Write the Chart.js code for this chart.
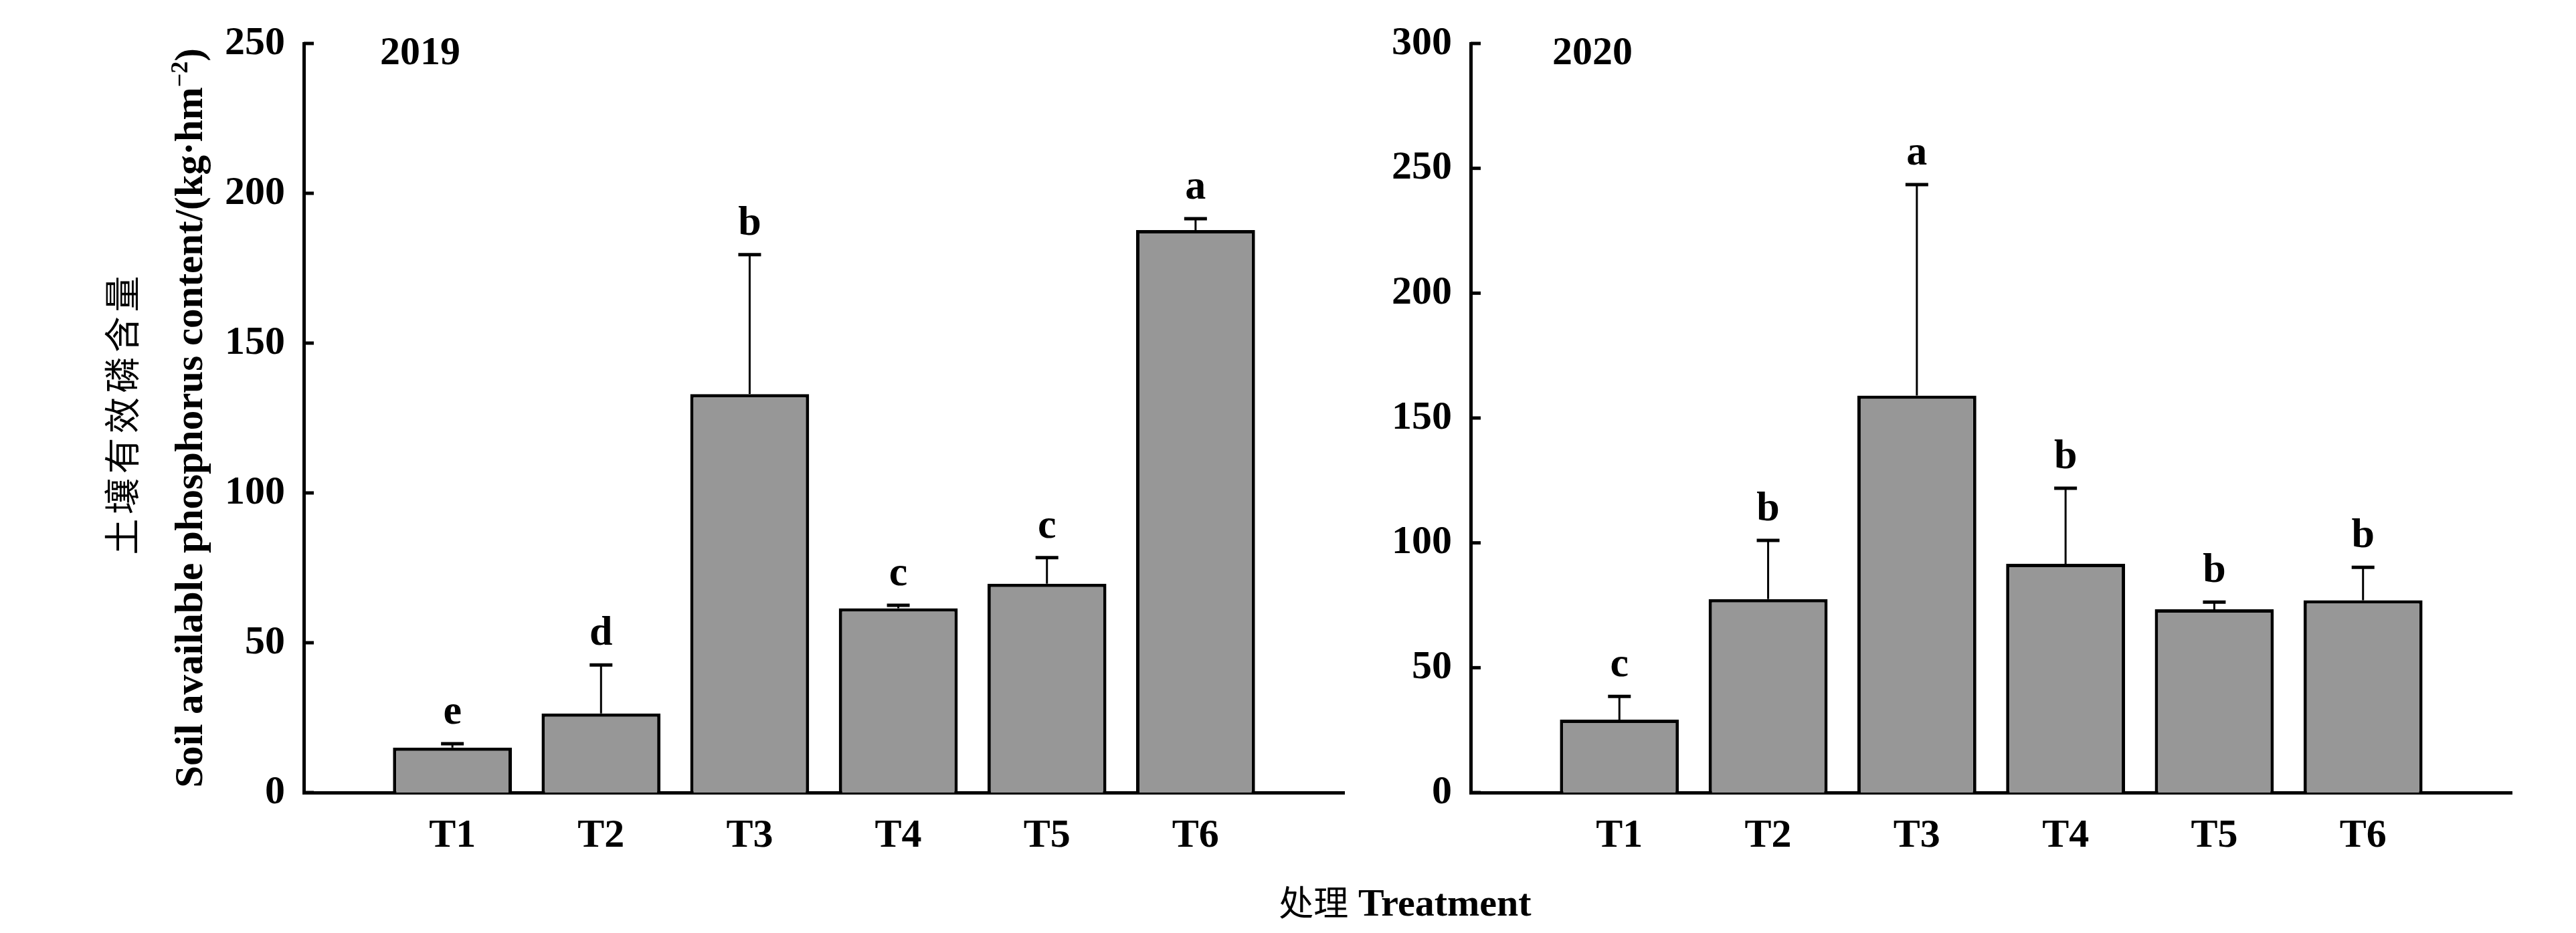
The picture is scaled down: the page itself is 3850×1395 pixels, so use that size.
<!DOCTYPE html>
<html><head><meta charset="utf-8">
<script src="https://cdn.jsdelivr.net/npm/chart.js@4.4.1/dist/chart.umd.min.js"></script>
<style>
html,body{margin:0;padding:0;background:#fff;width:3850px;height:1395px;overflow:hidden;}
#c1{position:absolute;left:0;top:0;}
#c2{position:absolute;left:1950px;top:0;}
#xt{position:absolute;left:1800px;width:600px;top:1312px;text-align:center;line-height:70px;color:#000;white-space:nowrap;font-size:58px;}
#xt .zh{font-family:'Noto Sans CJK SC';font-size:52px;}
#xt .en{font-family:'Liberation Serif';font-size:58px;font-weight:bold;}
</style></head><body>
<canvas id="c1" width="2100" height="1300"></canvas>
<canvas id="c2" width="1900" height="1300"></canvas>
<div id="xt"><span class="zh">处理</span><span class="en">&nbsp;Treatment</span></div>
<script>
// ---- data ----
const treatments = ['T1', 'T2', 'T3', 'T4', 'T5', 'T6'];
const values2019 = [15.0, 26.4, 133.0, 61.5, 69.7, 187.7];
const errors2019 = [1.3, 16.2, 46.5, 1.0, 8.7, 3.8];
const letters2019 = ['e', 'd', 'b', 'c', 'c', 'a'];
const values2020 = [29.2, 77.5, 159.0, 91.6, 73.4, 77.0];
const errors2020 = [9.3, 23.5, 84.5, 30.3, 2.9, 13.2];
const letters2020 = ['c', 'b', 'a', 'b', 'b', 'b'];
const yMax2019 = 250;
const yMax2020 = 300;
const yStep = 50;
const yTitleZh = '土壤有效磷含量';
const yTitleEn = 'Soil available phosphorus content/(kg·hm';
const yTitleSup = '−2';

const SERIF = "'Liberation Serif', 'Times New Roman', serif";

// padded category list so that bars sit at 1..6 of a 0..7 axis
const labels = [''].concat(treatments, ['']);
const pad = arr => [null].concat(arr, [null]);

const decorPlugin = {
  id: 'decor',
  afterDatasetsDraw(chart, args, opts) {
    const ctx = chart.ctx;
    const y = chart.scales.y;
    const meta = chart.getDatasetMeta(0);
    ctx.save();
    ctx.strokeStyle = '#000';
    ctx.fillStyle = '#000';
    meta.data.forEach((bar, i) => {
      const v = chart.data.datasets[0].data[i];
      if (v === null || v === undefined) return;
      const k = i - 1;
      const err = opts.errors[k];
      const yTop = y.getPixelForValue(v);
      const yCap = y.getPixelForValue(v + err);
      ctx.lineWidth = 3;
      ctx.beginPath(); ctx.moveTo(bar.x, yTop); ctx.lineTo(bar.x, yCap); ctx.stroke();
      ctx.lineWidth = 5;
      ctx.beginPath(); ctx.moveTo(bar.x - 17, yCap); ctx.lineTo(bar.x + 17, yCap); ctx.stroke();
      ctx.font = 'bold 62px ' + SERIF;
      ctx.textAlign = 'center';
      ctx.textBaseline = 'alphabetic';
      ctx.fillText(opts.letters[k], bar.x, yCap - 30);
    });
    ctx.restore();
  },
  afterDraw(chart, args, opts) {
    const ctx = chart.ctx;
    const y = chart.scales.y;
    const area = chart.chartArea;
    ctx.save();
    // inward tick marks
    ctx.strokeStyle = '#000';
    ctx.lineWidth = 5;
    y.ticks.forEach(t => {
      const py = y.getPixelForValue(t.value);
      ctx.beginPath(); ctx.moveTo(area.left, py); ctx.lineTo(area.left + 15, py); ctx.stroke();
    });
    // year label
    ctx.fillStyle = '#000';
    ctx.font = 'bold 60px ' + SERIF;
    ctx.textAlign = 'left';
    ctx.textBaseline = 'alphabetic';
    ctx.fillText(opts.year, area.left + opts.yearDx, area.top + 31);
    // y axis title
    if (opts.yTitle) {
      const cy = (area.top + area.bottom) / 2 - 4;
      // Chinese line
      ctx.save();
      ctx.translate(182, cy);
      ctx.rotate(-Math.PI / 2);
      ctx.font = "54px 'Noto Sans CJK SC'";
      ctx.textAlign = 'center';
      ctx.textBaseline = 'middle';
      const step = 60.5;
      const n = yTitleZh.length;
      for (let i = 0; i < n; i++) {
        ctx.fillText(yTitleZh[i], (i - (n - 1) / 2) * step, 0);
      }
      ctx.restore();
      // English line
      ctx.save();
      ctx.translate(287, cy + 4);
      ctx.rotate(-Math.PI / 2);
      ctx.textBaseline = 'middle';
      ctx.textAlign = 'left';
      const fMain = 'bold 59px ' + SERIF;
      const fSup = 'bold 36px ' + SERIF;
      ctx.font = fMain; const w1 = ctx.measureText(yTitleEn).width; const w3 = ctx.measureText(')').width;
      ctx.font = fSup; const w2 = ctx.measureText(yTitleSup).width;
      let x0 = -(w1 + w2 + w3) / 2;
      ctx.font = fMain; ctx.fillText(yTitleEn, x0, 0); x0 += w1;
      ctx.font = fSup; ctx.fillText(yTitleSup, x0, -16); x0 += w2;
      ctx.font = fMain; ctx.fillText(')', x0, 0);
      ctx.restore();
    }
    ctx.restore();
  }
};

function makeChart(id, values, errors, letters, year, yMax, yAxisWidth, padRight, yearDx, yTitle) {
  return new Chart(document.getElementById(id), {
    type: 'bar',
    data: {
      labels: labels,
      datasets: [{
        data: pad(values),
        backgroundColor: '#979797',
        borderColor: '#000',
        borderWidth: 5,
        borderSkipped: 'start',
        categoryPercentage: 1.0,
        barPercentage: 0.8
      }]
    },
    options: {
      responsive: false,
      animation: false,
      events: [],
      layout: { padding: { top: 65, right: padRight, left: 0, bottom: 0 } },
      plugins: {
        legend: { display: false },
        tooltip: { enabled: false },
        decor: { errors: errors, letters: letters, year: year, yearDx: yearDx, yTitle: yTitle }
      },
      scales: {
        x: {
          type: 'category',
          offset: false,
          grid: { display: false, drawTicks: false },
          border: { display: true, color: '#000', width: 5 },
          ticks: { color: '#000', font: { family: SERIF, size: 60, weight: 'bold' }, padding: 29, autoSkip: false, maxRotation: 0 },
          afterFit(s) { s.height = 115; }
        },
        y: {
          min: 0, max: yMax,
          grid: { display: false, drawTicks: false },
          border: { display: true, color: '#000', width: 5 },
          ticks: { stepSize: yStep, color: '#000', font: { family: SERIF, size: 60, weight: 'bold' }, padding: 28 },
          afterFit(s) { s.width = yAxisWidth; }
        }
      }
    },
    plugins: [decorPlugin]
  });
}

makeChart('c1', values2019, errors2019, letters2019, '2019', yMax2019, 454, 91, 114, true);
makeChart('c2', values2020, errors2020, letters2020, '2020', yMax2020, 248, 96, 122, false);
</script>
</body></html>
